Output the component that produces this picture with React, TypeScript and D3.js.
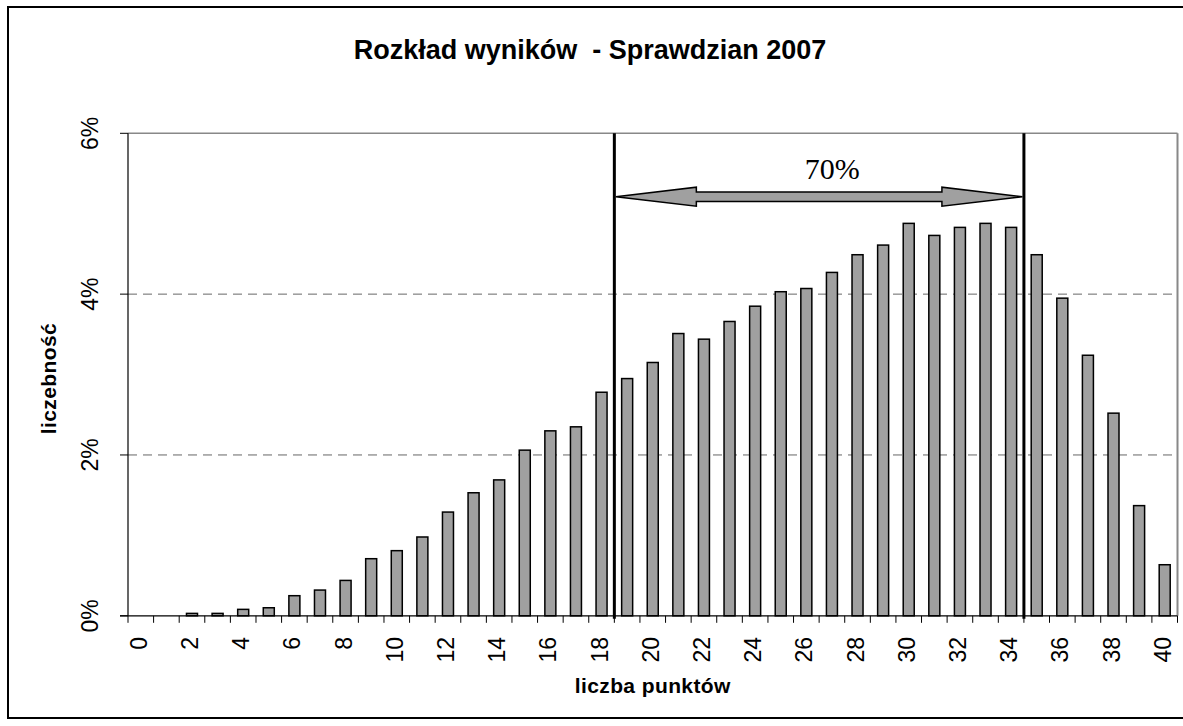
import React from 'react';
import * as d3 from 'd3';

// punkty 0..40 i procent uczniów
const points = d3.range(0, 41);
const shares = [
  0, 0, 0.03, 0.03, 0.08, 0.1, 0.25, 0.32, 0.44, 0.71,
  0.81, 0.98, 1.29, 1.53, 1.69, 2.06, 2.3, 2.35, 2.78, 2.95,
  3.15, 3.51, 3.44, 3.66, 3.85, 4.03, 4.07, 4.27, 4.49, 4.61,
  4.88, 4.73, 4.83, 4.88, 4.83, 4.49, 3.95, 3.24, 2.52, 1.37,
  0.635,
];
const yTicks = [0, 2, 4, 6];
const rangeFrom = 19;
const rangeTo = 35;
const rangeLabel = '70%';

const title = 'Rozkład wyników  - Sprawdzian 2007';
const xTitle = 'liczba punktów';
const yTitle = 'liczebność';

const W = 1183;
const H = 726;
const plot = { left: 128, right: 1177.5, top: 133.3, bottom: 615.8 };
const sans = '"Liberation Sans", Arial, sans-serif';
const serif = '"Liberation Serif", "Times New Roman", serif';

const App: React.FC = () => {
  const x = d3.scaleBand<number>()
    .domain(points)
    .range([plot.left, plot.right])
    .paddingInner(0.57)
    .paddingOuter(0.285);
  const y = d3.scaleLinear().domain([0, 6]).range([plot.bottom, plot.top]);

  const step = x.step();
  const edge = (i: number) => (x(i) ?? 0) - (step - x.bandwidth()) / 2;
  const center = (i: number) => (x(i) ?? 0) + x.bandwidth() / 2;

  const xa = edge(rangeFrom);
  const xb = edge(rangeTo);
  const ay = 196.7;
  const head = 82, hh = 9.5, sh = 4.7;
  const arrow = [
    [xa + 1.5, ay], [xa + head, ay - hh], [xa + head, ay - sh], [xb - head, ay - sh],
    [xb - head, ay - hh], [xb - 1.5, ay], [xb - head, ay + hh], [xb - head, ay + sh],
    [xa + head, ay + sh], [xa + head, ay + hh],
  ];

  return (
    <svg width={W} height={H} style={{ position: 'absolute', left: 0, top: 0, background: '#fff' }}>
      <rect x={8} y={7} width={W + 10} height={711} fill="#fff" stroke="#000" strokeWidth={2} />

      <text x={590} y={59} textAnchor="middle" fontFamily={sans} fontWeight="bold" fontSize={27}
        style={{ whiteSpace: 'pre' }}>{title}</text>

      {/* siatka */}
      {yTicks.filter((t) => t > 0 && t < 6).map((t) => (
        <line key={t} x1={plot.left} x2={plot.right} y1={y(t)} y2={y(t)} stroke="#666" strokeWidth={1} strokeDasharray="9,6" />
      ))}
      <line x1={plot.left} x2={plot.right} y1={y(6)} y2={y(6)} stroke="#888" strokeWidth={1.5} />
      <line x1={plot.right} x2={plot.right} y1={y(6)} y2={plot.bottom} stroke="#888" strokeWidth={2} />

      {/* słupki */}
      {points.map((p, i) => shares[i] > 0 && (
        <rect key={p} x={x(p)} y={y(shares[i])} width={x.bandwidth()} height={y(0) - y(shares[i])}
          fill="#a0a0a0" stroke="#000" strokeWidth={1.5} />
      ))}

      {/* osie */}
      <line x1={plot.left} x2={plot.left} y1={plot.top} y2={plot.bottom} stroke="#000" strokeWidth={1.2} />
      <line x1={plot.left - 8} x2={plot.right} y1={plot.bottom} y2={plot.bottom} stroke="#000" strokeWidth={1.2} />
      {yTicks.map((t) => (
        <g key={t}>
          <line x1={plot.left - 8} x2={plot.left} y1={y(t)} y2={y(t)} stroke="#000" strokeWidth={1} />
          <text transform={`translate(98,${y(t)}) rotate(-90)`} textAnchor="middle" fontFamily={sans} fontSize={23}>{`${t}%`}</text>
        </g>
      ))}
      {d3.range(0, 42).map((i) => {
        const bx = i < 41 ? edge(i) : plot.right;
        return <line key={i} x1={bx} x2={bx} y1={plot.bottom} y2={plot.bottom + 7} stroke="#000" strokeWidth={1} />;
      })}
      {points.filter((p) => p % 2 === 0).map((p) => (
        <text key={p} transform={`translate(${center(p) - 2},637) rotate(-90)`} dy="0.35em" textAnchor="end"
          fontFamily={sans} fontSize={23}>{p}</text>
      ))}

      <text x={(plot.left + plot.right) / 2} y={692.5} textAnchor="middle" fontFamily={sans} fontWeight="bold" fontSize={21}
        letterSpacing={0.4}>{xTitle}</text>
      <text transform={`translate(56,${(plot.top + plot.bottom) / 2 + 4}) rotate(-90)`} textAnchor="middle"
        fontFamily={sans} fontWeight="bold" fontSize={21} letterSpacing={0.4}>{yTitle}</text>

      {/* zakres 70% */}
      <line x1={xa} x2={xa} y1={plot.top} y2={plot.bottom + 3} stroke="#000" strokeWidth={3} />
      <line x1={xb} x2={xb} y1={plot.top} y2={plot.bottom + 3} stroke="#000" strokeWidth={3} />
      <polygon points={arrow.map((d) => d.join(',')).join(' ')} fill="#a0a0a0" stroke="#000" strokeWidth={1.5} strokeLinejoin="miter" />
      <text x={(xa + xb) / 2 + 13} y={179} textAnchor="middle" fontFamily={serif} fontSize={30}>{rangeLabel}</text>
    </svg>
  );
};

export default App;
